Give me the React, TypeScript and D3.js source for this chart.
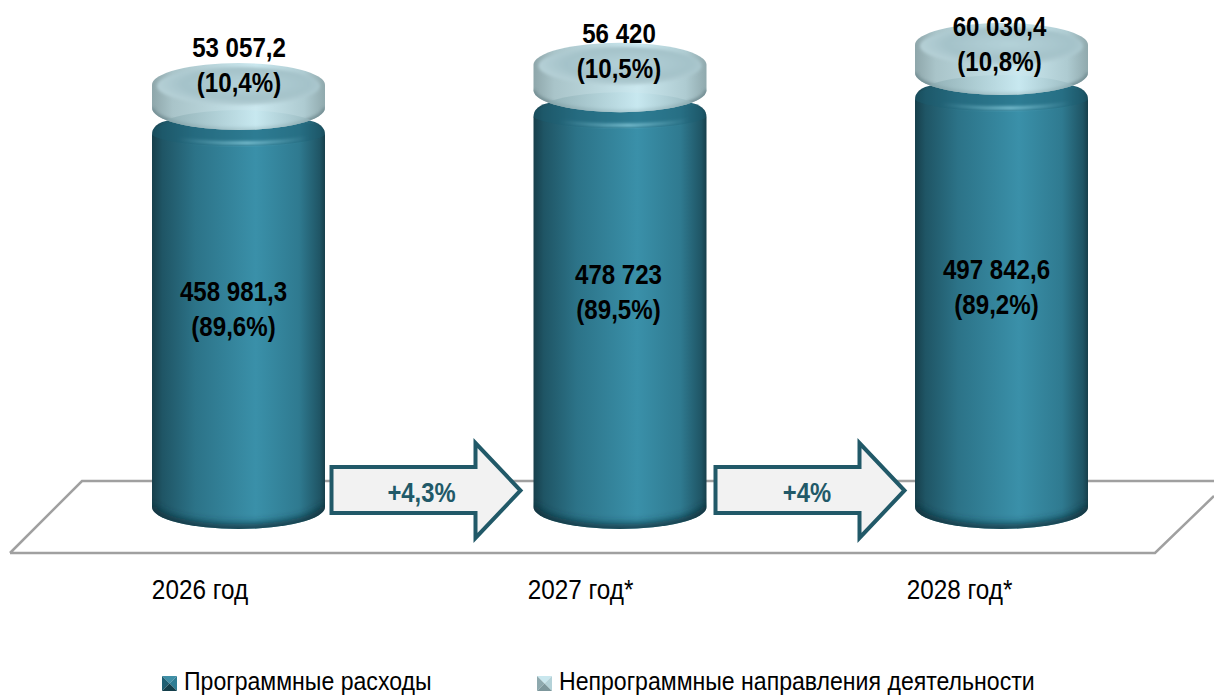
import React from 'react';
import {scaleLinear, scalePoint, line, format, formatLocale} from 'd3';

const years = ['2026 год', '2027 год*', '2028 год*'];
const programValues = [458981.3, 478723, 497842.6];
const nonProgramValues = [53057.2, 56420, 60030.4];
const programShares = [89.6, 89.5, 89.2];
const nonProgramShares = [10.4, 10.5, 10.8];
const growthLabels = ['+4,3%', '+4%'];
const legendLabels = ['Программные расходы', 'Непрограммные направления деятельности'];

const WIDTH = 1214;
const HEIGHT = 695;
const FONT = '"Liberation Sans", sans-serif';

const x = scalePoint<string>().domain(years).range([238.5, 1001.5]);
const y = scaleLinear().domain([43000, 497842.6]).range([507, 97]);
const diskH = scaleLinear().domain([53057.2, 60030.4]).range([23, 28]);

const RX = 86.5;
const RY = 22;

// labels were hand placed in the original, so they do not sit at a fixed spot on the bars
const barLabelDy = [-7, -15, -11];
const barLabelDx = [-5, -1.5, -5];
const diskLabelY = [47, 33, 26];
const diskLabelDx = [[0.5, 0.5], [-1, -1], [-2, -2]];
const arrowDx = [0, 2.5];
const arrowTextDx = [0, 1.5];
const yearDx = [-38.5, -39.5, -42];

const ruLocale = formatLocale({decimal: ',', thousands: ' ', grouping: [3], currency: ['', '']});
const fmtValue = (v: number) => {
    let f = Number.isInteger(v) ? ruLocale.format(',d') : ruLocale.format(',.1f');
    return f(v);
};
const fmtShare = format('.1f');
const shareText = (v: number) => `(${fmtShare(v).replace('.', ',')}%)`;

const arrowPath = line();

// no narrow face is installed, so the regular one is squeezed sideways
let Narrow = ({x: tx, y: ty, k = 0.87, children, ...rest}: any) =>
    <text transform={`translate(${tx},${ty}) scale(${k},1)`} {...rest}>{children}</text>;

let Arrow = ({left, label, textDx}: {left: number; label: string; textDx: number}) => {
    let top = 467, bottom = 513, mid = 490.5;
    let pts: [number, number][] = [
        [left, top], [left + 144, top], [left + 144, 443], [left + 189, mid],
        [left + 144, 538], [left + 144, bottom], [left, bottom]
    ];
    return <g>
        <path d={arrowPath(pts) + 'Z'} fill="#f2f2f2" stroke="#215968" strokeWidth={4} strokeLinejoin="miter"/>
        <Narrow x={left + 90 + textDx} y={mid + 11} k={0.85} textAnchor="middle" fontFamily={FONT} fontWeight="bold"
                fontSize={28} fill="#215968">{label}</Narrow>
    </g>;
};

let Cylinder = ({i}: {i: number}) => {
    let cx = x(years[i]) as number;
    let l = cx - RX, r = cx + RX;
    let base = y.range()[0];
    let top = y(programValues[i]);
    let diskBottom = top - 24;
    let diskTop = diskBottom - diskH(nonProgramValues[i]);

    let body = `M${l},${top + 3} Q${l},${top - 9} ${l + 18},${top - 12} L${r - 18},${top - 12} Q${r},${top - 9} ${r},${top + 3}
        L${r},${base} A${RX},${RY} 0 0 1 ${l},${base} Z`;
    let disk = `M${l},${diskTop} A${RX},${RY} 0 0 1 ${r},${diskTop} L${r},${diskBottom} A${RX},${RY} 0 0 1 ${l},${diskBottom} Z`;

    return <g>
        <path d={body} fill="url(#barSide)"/>
        <clipPath id={`bodyClip${i}`}><path d={body}/></clipPath>
        <g clipPath={`url(#bodyClip${i})`}>
            <path d={`M${l},${base} A${RX},${RY} 0 0 0 ${r},${base}`} fill="none" stroke="#0f323c"
                  strokeWidth={9} filter="url(#softFoot)"/>
            <ellipse cx={cx} cy={top} rx={RX + 2} ry={14} fill="#1c5e72" opacity={0.4}/>
            <path d={`M${l},${top} A${RX + 2},14 0 0 0 ${r},${top}`} fill="none" stroke="url(#barGlint)"
                  strokeWidth={3} filter="url(#soft)"/>
        </g>

        <path d={disk} fill="url(#diskSide)"/>
        <clipPath id={`diskClip${i}`}><path d={disk}/></clipPath>
        <g clipPath={`url(#diskClip${i})`}>
            <path d={`M${l},${diskBottom} A${RX},${RY} 0 0 0 ${r},${diskBottom}`} fill="none" stroke="#6f8a90"
                  strokeWidth={5} opacity={0.8} filter="url(#soft)"/>
            <ellipse cx={cx} cy={top} rx={RX} ry={RY} fill="url(#diskSeen)"/>
            <ellipse cx={cx} cy={diskTop + 1} rx={RX - 5} ry={RY - 3} fill="url(#diskFace)" filter="url(#soft)"/>
        </g>
    </g>;
};

let Legend = ({left, label, light, dark, mid, pale, k}: any) => {
    let t = 676, s = 15, b = t + s, rr = left + s, cx = left + s / 2, cy = t + s / 2;
    let tri = (a: string, fill: string) => <polygon points={a} fill={fill}/>;
    return <g>
        {tri(`${left},${t} ${rr},${t} ${cx},${cy}`, pale)}
        {tri(`${left},${t} ${left},${b} ${cx},${cy}`, mid)}
        {tri(`${rr},${t} ${rr},${b} ${cx},${cy}`, light)}
        {tri(`${left},${b} ${rr},${b} ${cx},${cy}`, dark)}
        <Narrow x={left + 22} y={690} k={k} fontFamily={FONT} fontSize={26} fill="#000">{label}</Narrow>
    </g>;
};

export default function App() {
    let floorY = [481, 553];
    return (
        <svg width={WIDTH} height={HEIGHT} viewBox={`0 0 ${WIDTH} ${HEIGHT}`}
             style={{position: 'absolute', left: 0, top: 0, display: 'block', background: '#fff'}}>
            <defs>
                <linearGradient id="barSide" x1="0" x2="1" y1="0" y2="0">
                    <stop offset="0" stopColor="#173f4b"/>
                    <stop offset="0.06" stopColor="#1f5565"/>
                    <stop offset="0.25" stopColor="#2c7388"/>
                    <stop offset="0.6" stopColor="#3a90a9"/>
                    <stop offset="0.85" stopColor="#2f7a90"/>
                    <stop offset="0.97" stopColor="#1f5565"/>
                    <stop offset="1" stopColor="#173f4b"/>
                </linearGradient>
                <linearGradient id="barGlint" x1="0" x2="1" y1="0" y2="0">
                    <stop offset="0.15" stopColor="#7fc4d4" stopOpacity={0}/>
                    <stop offset="0.55" stopColor="#8fd2e2" stopOpacity={0.9}/>
                    <stop offset="0.9" stopColor="#7fc4d4" stopOpacity={0}/>
                </linearGradient>
                <linearGradient id="diskSide" x1="0" x2="1" y1="0" y2="0">
                    <stop offset="0" stopColor="#8ea6aa"/>
                    <stop offset="0.12" stopColor="#a9c4c9"/>
                    <stop offset="0.6" stopColor="#cbe8ef"/>
                    <stop offset="0.88" stopColor="#aecbd1"/>
                    <stop offset="1" stopColor="#90a9ad"/>
                </linearGradient>
                <linearGradient id="diskSeen" x1="0" x2="1" y1="0" y2="0">
                    <stop offset="0" stopColor="#7f9fa4" stopOpacity={0.7}/>
                    <stop offset="0.6" stopColor="#c6e8f0" stopOpacity={0.7}/>
                    <stop offset="1" stopColor="#86a6ac" stopOpacity={0.7}/>
                </linearGradient>
                <radialGradient id="diskFace" cx="0.55" cy="0.45" r="0.55">
                    <stop offset="0" stopColor="#b4d2d9"/>
                    <stop offset="0.7" stopColor="#a4c2c9"/>
                    <stop offset="1" stopColor="#b5d0d6"/>
                </radialGradient>
                <filter id="soft" x="-10%" y="-30%" width="120%" height="160%">
                    <feGaussianBlur stdDeviation="1.6"/>
                </filter>
                <filter id="softFoot" x="-10%" y="-50%" width="120%" height="200%">
                    <feGaussianBlur stdDeviation="4"/>
                </filter>
            </defs>

            <path d={`M10,${floorY[1]} L82,${floorY[0]} L${WIDTH},${floorY[0]} M${WIDTH},${floorY[0] + 15} L1155,${floorY[1]} L10,${floorY[1]}`}
                  fill="none" stroke="#a0a0a0" strokeWidth={2.5}/>

            {years.map((d, i) => <Cylinder key={d} i={i}/>)}

            {growthLabels.map((g, i) =>
                <Arrow key={g} label={g} textDx={arrowTextDx[i]} left={(x(years[i]) as number) + 93 + arrowDx[i]}/>)}

            <g fontFamily={FONT} fontWeight="bold" fontSize={28.5} fill="#000" textAnchor="middle">
                {years.map((d, i) => {
                    let cx = x(d) as number;
                    let midY = (y(programValues[i]) + y.range()[0]) / 2 + barLabelDy[i];
                    return <g key={d}>
                        <Narrow x={cx + barLabelDx[i]} y={midY - 12} k={0.845}>{fmtValue(programValues[i])}</Narrow>
                        <Narrow x={cx + barLabelDx[i]} y={midY + 23} k={0.845}>{shareText(programShares[i])}</Narrow>
                        <Narrow x={cx + diskLabelDx[i][0]} y={diskLabelY[i] + 10} k={0.845}>{fmtValue(nonProgramValues[i])}</Narrow>
                        <Narrow x={cx + diskLabelDx[i][1]} y={diskLabelY[i] + 45} k={0.845}>{shareText(nonProgramShares[i])}</Narrow>
                    </g>;
                })}
            </g>

            <g fontFamily={FONT} fontSize={27} fill="#000" textAnchor="middle">
                {years.map((d, i) => <Narrow key={d} x={(x(d) as number) + yearDx[i]} y={599} k={0.9}>{d}</Narrow>)}
            </g>

            <Legend left={162} label={legendLabels[0]} k={0.888} pale="#3f8fa6" mid="#1f5f72" light="#2f7d94" dark="#143f4b"/>
            <Legend left={537} label={legendLabels[1]} k={0.888} pale="#c9e7ee" mid="#8ea9ae" light="#b4d2d8" dark="#7d979c"/>
        </svg>
    );
}
